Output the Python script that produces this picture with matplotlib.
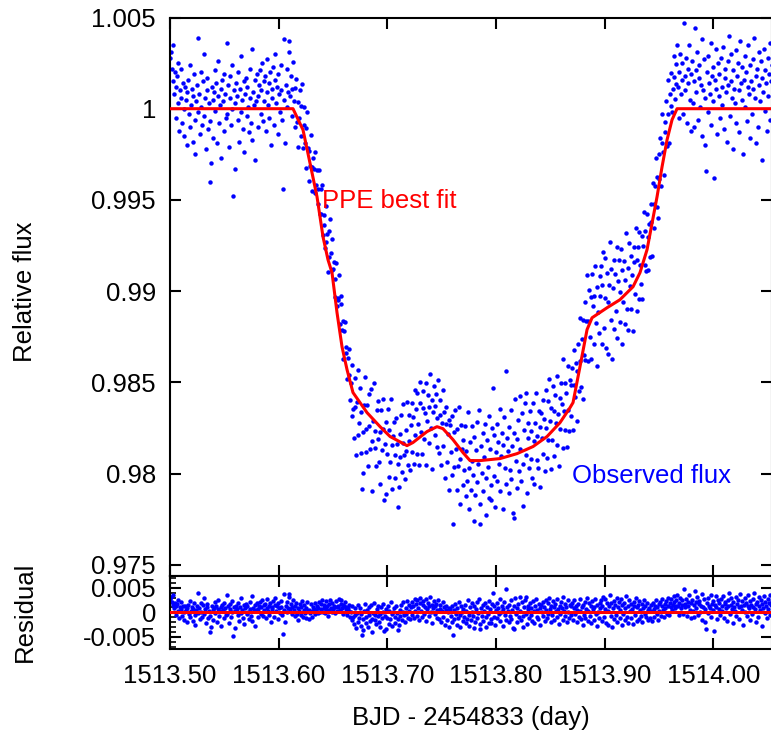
import numpy as np
import matplotlib
matplotlib.use("Agg")
import matplotlib.pyplot as plt
from matplotlib.ticker import MultipleLocator, FixedLocator

# PPE best-fit model curve (knots)
model_t = [1513.5000, 1513.6132, 1513.6224, 1513.6288, 1513.6353, 1513.6408, 1513.6454,
           1513.6491, 1513.6537, 1513.6583, 1513.6629, 1513.6684, 1513.6813, 1513.6933,
           1513.7025, 1513.7181, 1513.7236, 1513.7365, 1513.7457, 1513.7512, 1513.7604,
           1513.7696, 1513.7761, 1513.7853, 1513.8037, 1513.8193, 1513.8341, 1513.8470,
           1513.8589, 1513.8681, 1513.8709, 1513.8773, 1513.8838, 1513.8884, 1513.9022,
           1513.9141, 1513.9261, 1513.9325, 1513.9390, 1513.9482, 1513.9528, 1513.9574,
           1513.9620, 1513.9666, 1514.0600]
model_f = [1.0, 1.0, 0.99884, 0.99703, 0.99517, 0.99298, 0.99172,
           0.99101, 0.98882, 0.98695, 0.98570, 0.98444, 0.98334, 0.98257,
           0.98203, 0.98153, 0.98170, 0.98230, 0.98257, 0.98246, 0.98186,
           0.98115, 0.98071, 0.98071, 0.98082, 0.98109, 0.98148, 0.98203,
           0.98279, 0.98361, 0.98389, 0.98586, 0.98789, 0.98854, 0.98909,
           0.98953, 0.99024, 0.99101, 0.99227, 0.99517, 0.99681, 0.99829,
           0.99939, 1.0, 1.0]

# observations: short cadence, start time and step (day)
t_start = 1513.5003
cadence = 0.000681

# residuals (observed - model) in units of 1e-4, one per cadence
resid = [
    # pre-transit
    28, 31, 22, 15, 35, 8, 20, 12, -5, 18, 25, 3, -12, 10, 6, 22, -8, 14, 0, -15,
    12, 5, -20, 9, 16, -3, 24, -10, 2, 11, -18, 7, 19, -6, -25, 4, 13, 39, -2, 8,
    -14, 20, 1, -9, 15, 30, -4, 6, -22, 10, 17, -11, 3, -40, -7, -30, 12, 5, -16, 9,
    21, -1, 14, -19, 7, 26, -8, 2, 11, -27, 16, 4, -12, 19, 8, -5, 36, -3, 13, -21,
    6, 18, -9, 0, 24, -48, 10, 3, -33, 14, 7, -6, 20, -18, 11, 29, -2, 5, -11, 15,
    -24, 8, 17, -4, 12, 1, -13, 22, 6, -8, 33, -17, 9, 2, 16, -28, 4, 19, -10, 7,
    13, 21, -3, 10, 25, -7, 15, 4, 18, -12, 9, 27, 2, -5, 14, 20, -20, 11, 6, 23,
    -9, 16, 30, 3, 12, -14, 19, 8, -2, 24, 10, -6, -44, 38, 5, -19, 13, 22, 1, 9,
    31, 37, 7, 18, -4, 11, 26,
    # ingress
    5, -8, 14, 20, -3, 9, -15, 2, 18, -6, 11, 24, -10, 4, 16, -2, 8, -12, 21, 3,
    -13, 5, -1, 18, 2, -9, 11, 7, -4, 20, 4, 14, -2, 9, 22, 1, 17, 6, 25, 0,
    8, 15, -1, 24, 6, 12, -7, 17, 4, 26, 9, 1, 20, 7, 14, -2, 11, 23, 3, 10,
    12, 28, 4, 18, 25, 9, 16, -3, 14, 21, 6, 11, -5, 8, 15, 2, -10,
    # bottom
    1, -16, 14, -9, -24, 9, -6, -32, -2, 16, -19, -12, 8, -27, -4, -46, -14, -36, 2, 18,
    -10, -22, 4, -29, 11, -6, -18, 15, -13, -40, -1, 20, -15, -5, -24, 7, -8, 13, -20, -3,
    -31, 10, -12, 0, 17, -38, -7, -34, 6, -11, 14, -23, 3, -14, 21, -4, -28, 1, 9, -9,
    -21, 12, -2, -13, -36, -25, 4, -8, 15, -16, 0, 22, -6, -19, 8, -3, 24, -11, 2, 16, -14,
    10, -5, 22, 14, -12, 28, 3, 17, -8, 25, 8, -15, 19, 30, 2, -10, 15, 24, -3, 11,
    27, -18, 6, 20, 13, -7, 31, 1, 16, -22, 9, 23, -4, 12, 18, -11, 5, 26, -14, 7,
    15, -20, 3, 21, -9, 10, -26, 4, 14, -16, 0, 8, -30, 6,
    -8, 12, -20, -46, 5, -14, 18, -3, -25, 9, -11, 22, -6, -30, 14, 1, -18, 7, -9, 16,
    -22, 3, -13, 25, -5, -27, 10, -16, 19, 0, -8, -33, 13, -19, 6, 21, -12, -2, 28, -24,
    -35, 8, -7, 15, -17, 2, 20, -10, -30, 11, -4, 24, -21, 6, -22, -14, 17, 39, -9, 13,
    -26, 4, 19, -12, 9, -3, 27, -18, 1, 14, -28, 7, 22, -6, 47, -15, 10, 3, -20, 16,
    -8, 25, -13, 5, -32, -35, 12, 30, -4, 8, -19, 18, -10, 31, 2, -16, 21, -7, -30, 11,
    26, -3, 31, -24, 6, 14, -11, 20, -6, 9, -17, 24, 3, -21, 12, 28, -9, 4, -14, 17,
    8, -25, 15, 1, 22, -8, 11, -18, 26, 5, -12, 19, -3, 30, 7, -20, 13, -5, 24, 10,
    -15, 18, 2, -10, 27, 6, -23, 14, -4, 21, 9, -16, 32, 3, -8, 17, 11, -19, 25, 0, -12, 15,
    # egress
    12, -6, 20, -15, 8, 25, -3, 14, -20, 5, 18, -10, 28, 2, -14, 10, -25, 16, -5, 22,
    -12, 7, 30, -18, 3, 19, -8, 13, -22, 24, 6, -15, 11, 27, -4, -28, 15, 1, -11, 20, 9,
    25, -18, 14, 32, -10, 6, 28, -22, 19, 3, -26, 12, 35, -8, 20, -30, 9, 24, -14, 16,
    -5, 30, -20, 11, 22, -12, 4, 27, -25, 15, -3, 19, -16, 8, 33, -9, 13, -21, 26, 2,
    -11, 18, 7, -24, 21, 12, -6, 29, -17, 10, 16, -13, 23, 4, -8, 17, -19, 9, 26, -4, 13, -10, 20, 5, -15,
    8, -12, 15, 3, -18, 20, 6, -9, 12, 25, -4, 10, -15, 18, 2, 22, -7, 14, 28, 5,
    -10, 17, 9, 24, -3, 13, 30, -6, 19, 11, 27, 4, 16, 33, 21, 8, 26, 14, 35,
    # post-transit
    12, 20, -5, 30, 8, 16, 25, -3, 47, 18, 10, 28, -8, 22, 14, 35, 5, -12, 19, 26,
    3, 15, -10, 44, 21, 9, 31, -6, 17, 24, 1, 13, 38, -15, 10, 27, 6, -20, -34, 20,
    29, -2, 14, 8, 36, -9, 18, 23, 4, -38, 16, 33, 11, -14, 25, 7, 19, -5, 28, 12,
    2, 34, -11, 17, 22, 9, -18, 26, 13, 40, -4, 15, 30, 6, -22, 21, 11, 3, 32, -8,
    18, 25, 10, -13, 37, 14, 5, 23, -25, 16, 29, 1, 20, -7, 12, 35, 8, -16, 24, 15,
    -3, 27, 11, 39, 6, -19, 18, 22, -10, 31, 13, 4, 26, -28, 17, 9, 33, -1, 21, 14,
    -12, 28, 7, 19, 36, -6, 15, 24,
]

x_ticks = [1513.50, 1513.60, 1513.70, 1513.80, 1513.90, 1514.00]
x_labels = ["1513.50", "1513.60", "1513.70", "1513.80", "1513.90", "1514.00"]
flux_ticks = [0.975, 0.98, 0.985, 0.99, 0.995, 1.0, 1.005]
flux_labels = ["0.975", "0.98", "0.985", "0.99", "0.995", "1", "1.005"]
res_ticks = [-0.005, 0.0, 0.005]
res_labels = ["-0.005", "0", "0.005"]

plt.rcParams['font.family'] = ['Liberation Sans', 'DejaVu Sans']
FS = 18.5

time = t_start + cadence * np.arange(len(resid))
res = np.array(resid) * 1e-4
model_at_obs = np.interp(time, model_t, model_f)
flux = model_at_obs + res

fig = plt.figure(figsize=(7.71, 7.36), dpi=100)
W, H = 771.0, 736.0
left = 170 / W
width = 602 / W
ax = fig.add_axes([left, (H - 575.7) / H, width, (575.7 - 17.5) / H])
axr = fig.add_axes([left, (H - 649) / H, width, (649 - 575.7) / H])

# top panel: light curve
ax.plot(time, flux, 'o', color='#0000ff', ms=3.2, mew=0, zorder=2)
ax.plot(model_t, model_f, color='#ff0000', lw=2.2, zorder=3)
ax.set_xlim(1513.50, 1514.054)
ax.set_ylim(0.9744, 1.005)
ax.text(1513.6399, 0.99495, "PPE best fit", color='#ff0000', fontsize=FS,
        ha='left', va='center')
ax.text(1513.870, 0.97989, "Observed flux", color='#0000ff', fontsize=FS,
        ha='left', va='center')

# bottom panel: residuals
axr.plot(time, res, 'o', color='#0000ff', ms=3.2, mew=0, zorder=2)
axr.plot([1513.45, 1514.10], [0, 0], color='#ff0000', lw=2.2, zorder=3)
axr.set_xlim(1513.50, 1514.054)
axr.set_ylim(-0.0075, 0.0075)

for a in (ax, axr):
    for s in a.spines.values():
        s.set_linewidth(1.5)
    a.tick_params(which='major', direction='in', length=8, width=1.5,
                  top=True, right=True, labelsize=FS, pad=10)
    a.xaxis.set_major_locator(FixedLocator(x_ticks))

ax.set_xticklabels([])
ax.yaxis.set_major_locator(FixedLocator(flux_ticks))
ax.set_yticklabels(flux_labels)

axr.set_xticks(x_ticks)
axr.set_xticklabels(x_labels)
axr.set_yticks(res_ticks)
axr.set_yticklabels(res_labels)
axr.yaxis.set_minor_locator(MultipleLocator(0.001))
axr.tick_params(which='minor', axis='y', direction='in', length=4, width=1.2,
                left=True, right=False)
axr.tick_params(axis='x', pad=11)

fig.text(25 / W, 1 - 292 / H, "Relative flux", rotation=90, fontsize=FS,
         ha='center', va='center')
fig.text(25 / W, 1 - 612 / H, "Residual", rotation=90, fontsize=FS,
         ha='center', va='center')
fig.text(471 / W, 1 - 718 / H, "BJD - 2454833 (day)", fontsize=FS,
         ha='center', va='center')

fig.savefig("out.png", dpi=100)
